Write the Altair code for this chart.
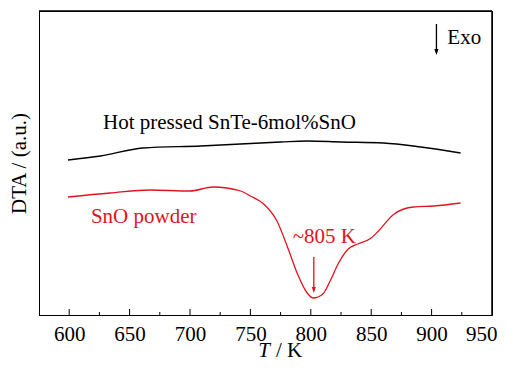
import altair as alt
import pandas as pd

# SnTe-6mol%SnO (hot pressed) curve
black_T = [599, 626, 661, 709, 775, 797, 825, 860, 891, 924]
black_y = [155, 159, 167, 169, 173, 174, 173, 172, 168, 162]

# SnO powder curve
red_T = [599, 634, 667, 700, 719, 742, 750, 761, 772, 781, 789, 797, 802, 810, 816, 823, 831, 839, 850, 856, 869, 885, 902, 924]
red_y = [118, 122, 125, 124, 128, 124, 119, 111, 94, 67, 41, 22, 17, 21, 34, 52, 66, 71, 77, 84, 101, 108, 109, 112]

tick_labels = [600, 650, 700, 750, 800, 850, 900, 950]
major_ticks = [600, 650, 700, 750, 800, 850, 900]
minor_ticks = [625, 675, 725, 775, 825, 875, 925]

X_DOMAIN = [575, 950]
Y_DOMAIN = [0, 304]

FONT = "Times New Roman, Liberation Serif, serif"
FS = 21
W, H = 453, 304
RED = "#e0141e"

black_df = pd.DataFrame({"T": black_T, "y": black_y})
red_df = pd.DataFrame({"T": red_T, "y": red_y})

xs = alt.Scale(domain=X_DOMAIN, nice=False, zero=False)
ys = alt.Scale(domain=Y_DOMAIN, nice=False, zero=False)

base_x = alt.X("T:Q", scale=xs,
               axis=alt.Axis(values=tick_labels, title=None,
                             tickSize=0, labelPadding=8, labelFont=FONT, labelFontSize=FS,
                             labelColor="black", domainColor="black", grid=False,
                             labelOverlap=False, labelFlush=False,
                             labelAlign={"condition": {"test": "datum.value == 950", "value": "right"}, "value": "center"},
                             labelOffset={"condition": {"test": "datum.value == 950", "value": 5}, "value": 0}))
base_y = alt.Y("y:Q", scale=ys,
               axis=alt.Axis(labels=False, ticks=False, grid=False, title="DTA / (a.u.)",
                             titleFont=FONT, titleFontSize=FS, titleFontWeight="normal",
                             titleColor="black", titlePadding=10, domainColor="black"))

black_line = alt.Chart(black_df).mark_line(color="black", strokeWidth=1.4, interpolate="monotone").encode(x=base_x, y=base_y)
red_line = alt.Chart(red_df).mark_line(color=RED, strokeWidth=1.3, interpolate="monotone").encode(x="T:Q", y="y:Q")

# plot frame (top and right edges) in data coordinates
frame_df = pd.DataFrame({
    "x1": [X_DOMAIN[0], X_DOMAIN[1]],
    "x2": [X_DOMAIN[1], X_DOMAIN[1]],
    "y1": [Y_DOMAIN[1], Y_DOMAIN[0]],
    "y2": [Y_DOMAIN[1], Y_DOMAIN[1]],
})
frame = alt.Chart(frame_df).mark_rule(color="black", strokeWidth=1.5).encode(
    x="x1:Q", x2="x2:Q", y="y1:Q", y2="y2:Q")

maj = alt.Chart(pd.DataFrame({"T": major_ticks})).mark_rule(color="black", strokeWidth=1).encode(
    x="T:Q", y=alt.value(H), y2=alt.value(H - 6))
mnr = alt.Chart(pd.DataFrame({"T": minor_ticks})).mark_rule(color="black", strokeWidth=1).encode(
    x="T:Q", y=alt.value(H), y2=alt.value(H - 3))

# annotations (data coords)
ann = pd.DataFrame({
    "T": [628, 618, 785, 913],
    "y": [192, 98, 78, 277],
    "label": ["Hot pressed SnTe-6mol%SnO", "SnO powder", "~805 K", "Exo"],
    "color": ["black", RED, RED, "black"],
})
texts = alt.Chart(ann).mark_text(font=FONT, fontSize=FS, align="left", baseline="middle").encode(
    x="T:Q", y="y:Q", text="label:N", color=alt.Color("color:N", scale=None))

arrows = pd.DataFrame({
    "T": [802.5, 904],
    "y1": [58, 291],
    "y2": [28, 262],
    "tip": [22, 260],
    "color": [RED, "black"],
})
shafts = alt.Chart(arrows).mark_rule(strokeWidth=1.3).encode(
    x="T:Q", y="y1:Q", y2="y2:Q", color=alt.Color("color:N", scale=None))
heads = alt.Chart(arrows).mark_point(shape="M-0.35,-1L0.35,-1L0,0Z", filled=True, size=140, opacity=1).encode(
    x="T:Q", y="tip:Q", color=alt.Color("color:N", scale=None))

xt1 = alt.Chart(pd.DataFrame({"t": ["T"]})).mark_text(font=FONT, fontSize=FS, fontStyle="italic",
                                                       align="right", baseline="alphabetic").encode(
    text="t:N", x=alt.value(231), y=alt.value(346))
xt2 = alt.Chart(pd.DataFrame({"t": ["/ K"]})).mark_text(font=FONT, fontSize=FS,
                                                         align="left", baseline="alphabetic").encode(
    text="t:N", x=alt.value(237), y=alt.value(346))

chart = alt.layer(black_line, red_line, frame, maj, mnr, texts, shafts, heads, xt1, xt2).properties(
    width=W, height=H,
    background="white",
    padding={"left": 0, "top": 2, "right": 0, "bottom": 0},
).configure_view(stroke="black", strokeWidth=1)

chart.save("out.html", embed_options={"renderer": "svg", "actions": False})
